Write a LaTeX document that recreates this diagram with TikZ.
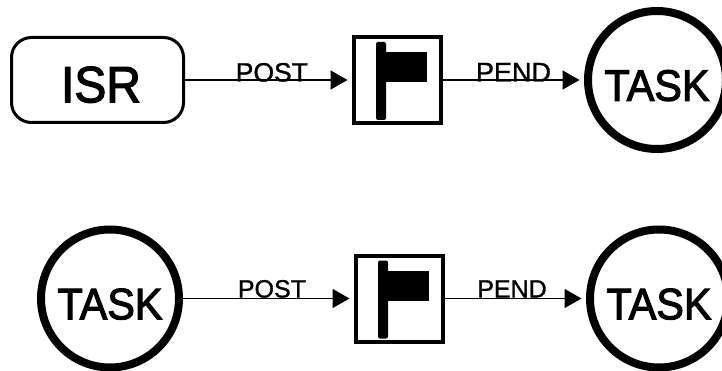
\documentclass[tikz,border=0pt]{standalone}
\usepackage{fontspec}
\setmainfont{Liberation Sans}
\newfontfamily\bigfont[FakeBold=2.5,FakeStretch=0.94]{Liberation Sans}
\newfontfamily\valfont[FakeBold=1.2]{Liberation Sans}
\usetikzlibrary{positioning}
\usetikzlibrary{arrows.meta}
\begin{document}
\begin{tikzpicture}[x=1pt, y=-1pt,
  tsk/.style={circle, draw, line width=8pt, minimum size=138pt, inner sep=0pt, text height=41.5pt, text depth=0pt, font=\bigfont\fontsize{44}{44}\selectfont},
  isrbox/.style={rectangle, rounded corners=20pt, draw, line width=3pt, minimum width=172pt, minimum height=85pt, inner sep=0pt, text height=44.5pt, text depth=0pt, font=\bigfont\fontsize{51}{51}\selectfont},
  flagbox/.style={rectangle, draw, line width=4pt, minimum width=87pt, minimum height=86pt},
  edge/.style={draw, line width=1.5pt, shorten >=4.5pt, -{Triangle[length=17pt,width=19pt]}},
  val/.style={anchor=base, inner sep=0pt},
]
\useasboundingbox (0,0) rectangle (722,371);
%top row
\node[isrbox] (isr) at (97.5,80) {\hspace*{7pt}ISR};
\node[flagbox] (f1) at (397.5,80) {};
\node[tsk] (t1) at (657,80) {TASK};
%bottom row
\node[tsk] (t2) at (110,298.5) {TASK};
\node[flagbox] (f2) at (399.5,298.5) {};
\node[tsk] (t3) at (659,298.5) {TASK};
%flags
\foreach \fl in {f1, f2} {
  \fill[rounded corners=2pt] ([xshift=-21.5pt,yshift=38pt]\fl.center) rectangle ([xshift=-11.5pt,yshift=-40pt]\fl.center);
  \fill ([xshift=-12pt,yshift=28pt]\fl.center) rectangle ([xshift=29.5pt,yshift=-2.5pt]\fl.center);
}
\foreach \fr / \tonode / \name / \where / \up / \size in { isr/f1/POST/.52/-1.5/26.5, f1/t1/PEND/.5/-1.5/27,
  t2/f2/POST/.52/1/25, f2/t3/PEND/.475/1/25 }
\draw[edge] (\fr) to node[val, pos=\where, yshift=\up pt, font=\valfont\fontsize{\size}{\size}\selectfont] {\name} (\tonode);
\end{tikzpicture}
\end{document}
